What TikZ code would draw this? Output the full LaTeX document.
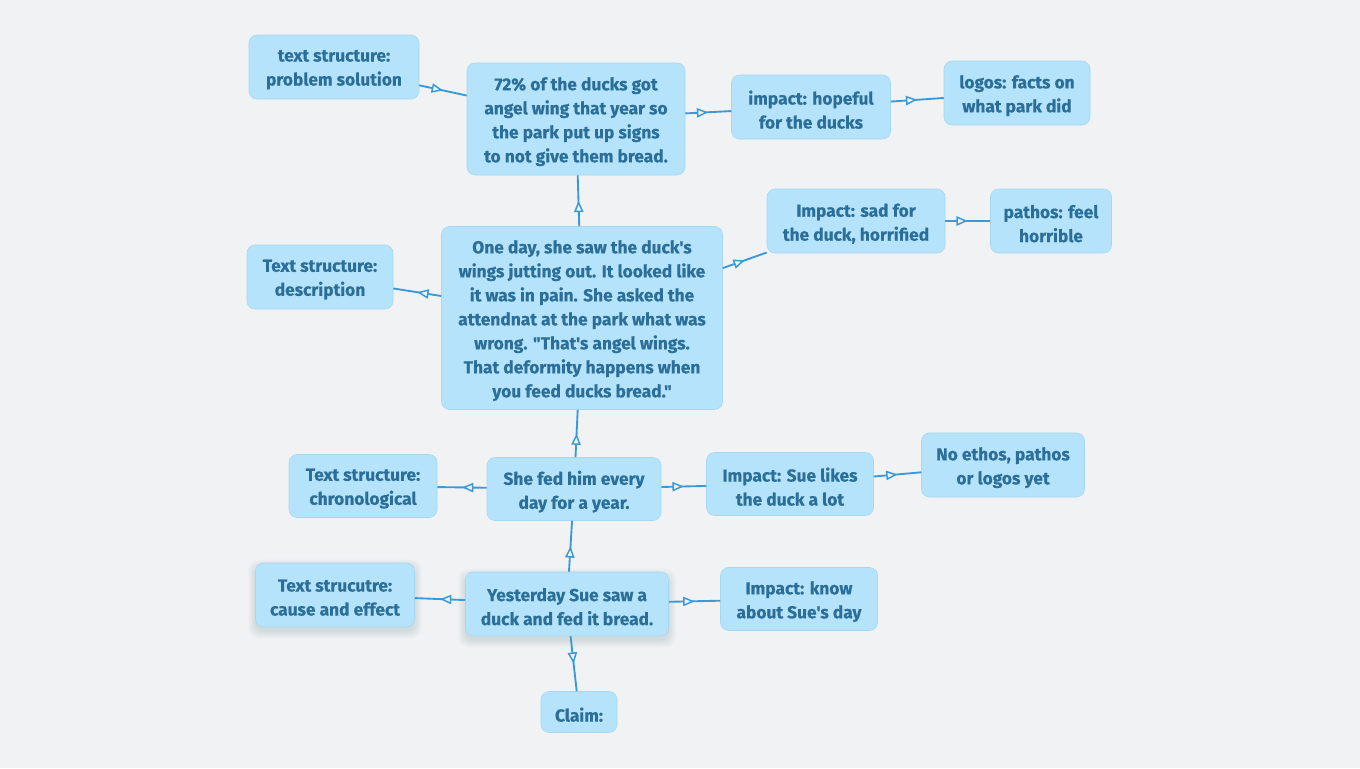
\documentclass[tikz,border=0pt]{standalone}
\usepackage{fontspec}
\setmainfont{Fira Sans}[Ligatures=TeXOff, BoldFeatures={FakeBold=0.4}]
\usetikzlibrary{decorations.markings,arrows.meta,backgrounds}
\definecolor{bg}{HTML}{F1F2F4}
\definecolor{boxfill}{HTML}{B5E3FB}
\definecolor{boxline}{HTML}{A6D6F2}
\definecolor{txt}{HTML}{2B6E98}
\definecolor{edgecol}{HTML}{3A9AD9}
\definecolor{sdwcol}{HTML}{2E5A78}
\tikzset{
  box/.style={rectangle, rounded corners=6pt, fill=boxfill, draw=boxline, line width=0.4pt,
    inner sep=0pt},
  lbl/.style={text=txt, font=\bfseries\fontsize{13}{18}\selectfont, align=center, inner sep=0pt, yshift=-2pt},
  sz/.style 2 args={minimum width=#1*0.75pt, minimum height=#2*0.75pt},
  link/.style={draw=edgecol, line width=1.4pt, postaction={decorate},
    decoration={markings, mark=at position 0.5 with {\arrow{Triangle[length=8.5pt, width=7pt, line width=1.1pt, fill=bg]}}}},
  sdwlayer/.style={sdwcol, opacity=0.02, rounded corners=7pt}
}
\newcommand{\bx}[6][]{\node[box, #1, sz={#4}{#5}, label={[lbl]center:{#6}}] (#2) at #3 {};}
\newcommand{\softsdw}[1]{%
  \begin{scope}[on background layer]
  \foreach \k in {0,...,7}{\fill[sdwlayer] ([shift={(-\k,\k+4)}]#1.south west) rectangle ([shift={(\k,-\k+4)}]#1.north east);}
  \end{scope}}
\begin{document}
\begin{tikzpicture}[x=0.75pt,y=-0.75pt]
\begin{scope}[on background layer]
\fill[bg] (0,0) rectangle (1360,768);
\end{scope}
\useasboundingbox (0,0) rectangle (1360,768);

\bx{n1}{(334,67)}{170}{64}{text structure:\\problem solution}
\bx{n2}{(576,119)}{218}{112}{72\% of the ducks got\\angel wing that year so\\the park put up signs\\to not give them bread.}
\bx{n3}{(811,107)}{159}{64}{impact: hopeful\\for the ducks}
\bx{n4}{(1017,93)}{146}{64}{logos: facts on\\what park did}
\bx{n5}{(856,221)}{178}{64}{Impact: sad for\\the duck, horrified}
\bx{n6}{(1051,221)}{121}{64}{pathos: feel\\horrible}
\bx{n7}{(320,277)}{146}{64}{Text structure:\\description}
\bx{n8}{(582,318)}{281}{183}{One day, she saw the duck's\\wings jutting out. It looked like\\it was in pain. She asked the\\attendnat at the park what was\\wrong. "That's angel wings.\\That deformity happens when\\you feed ducks bread."}
\bx{n9}{(363,486)}{148}{63}{Text structure:\\chronological}
\bx{n10}{(574,489)}{174}{63}{She fed him every\\day for a year.}
\bx{n11}{(790,484)}{167}{63}{Impact: Sue likes\\the duck a lot}
\bx{n12}{(1003,465)}{163}{64}{No ethos, pathos\\or logos yet}
\bx{n13}{(335,595)}{159}{64}{Text strucutre:\\cause and effect}
\bx{n14}{(567,604)}{203}{64}{Yesterday Sue saw a\\duck and fed it bread.}
\bx{n15}{(799,599)}{157}{63}{Impact: know\\about Sue's day}
\bx{n16}{(579,712)}{76}{41}{Claim:}
\softsdw{n13}
\softsdw{n14}

\path[link] (n14) -- (n10);
\path[link] (n14) -- (n13);
\path[link] (n14) -- (n15);
\path[link] (n14) -- (n16);
\path[link] (n10) -- (n8);
\path[link] (n10) -- (n9);
\path[link] (n10) -- (n11);
\path[link] (n11) -- (n12);
\path[link] (n8) -- (n2);
\path[link] (n8) -- (n7);
\path[link] (n8) -- (n5);
\path[link] (n5) -- (n6);
\path[link] (n1) -- (n2);
\path[link] (n2) -- (n3);
\path[link] (n3) -- (n4);
\end{tikzpicture}
\end{document}
